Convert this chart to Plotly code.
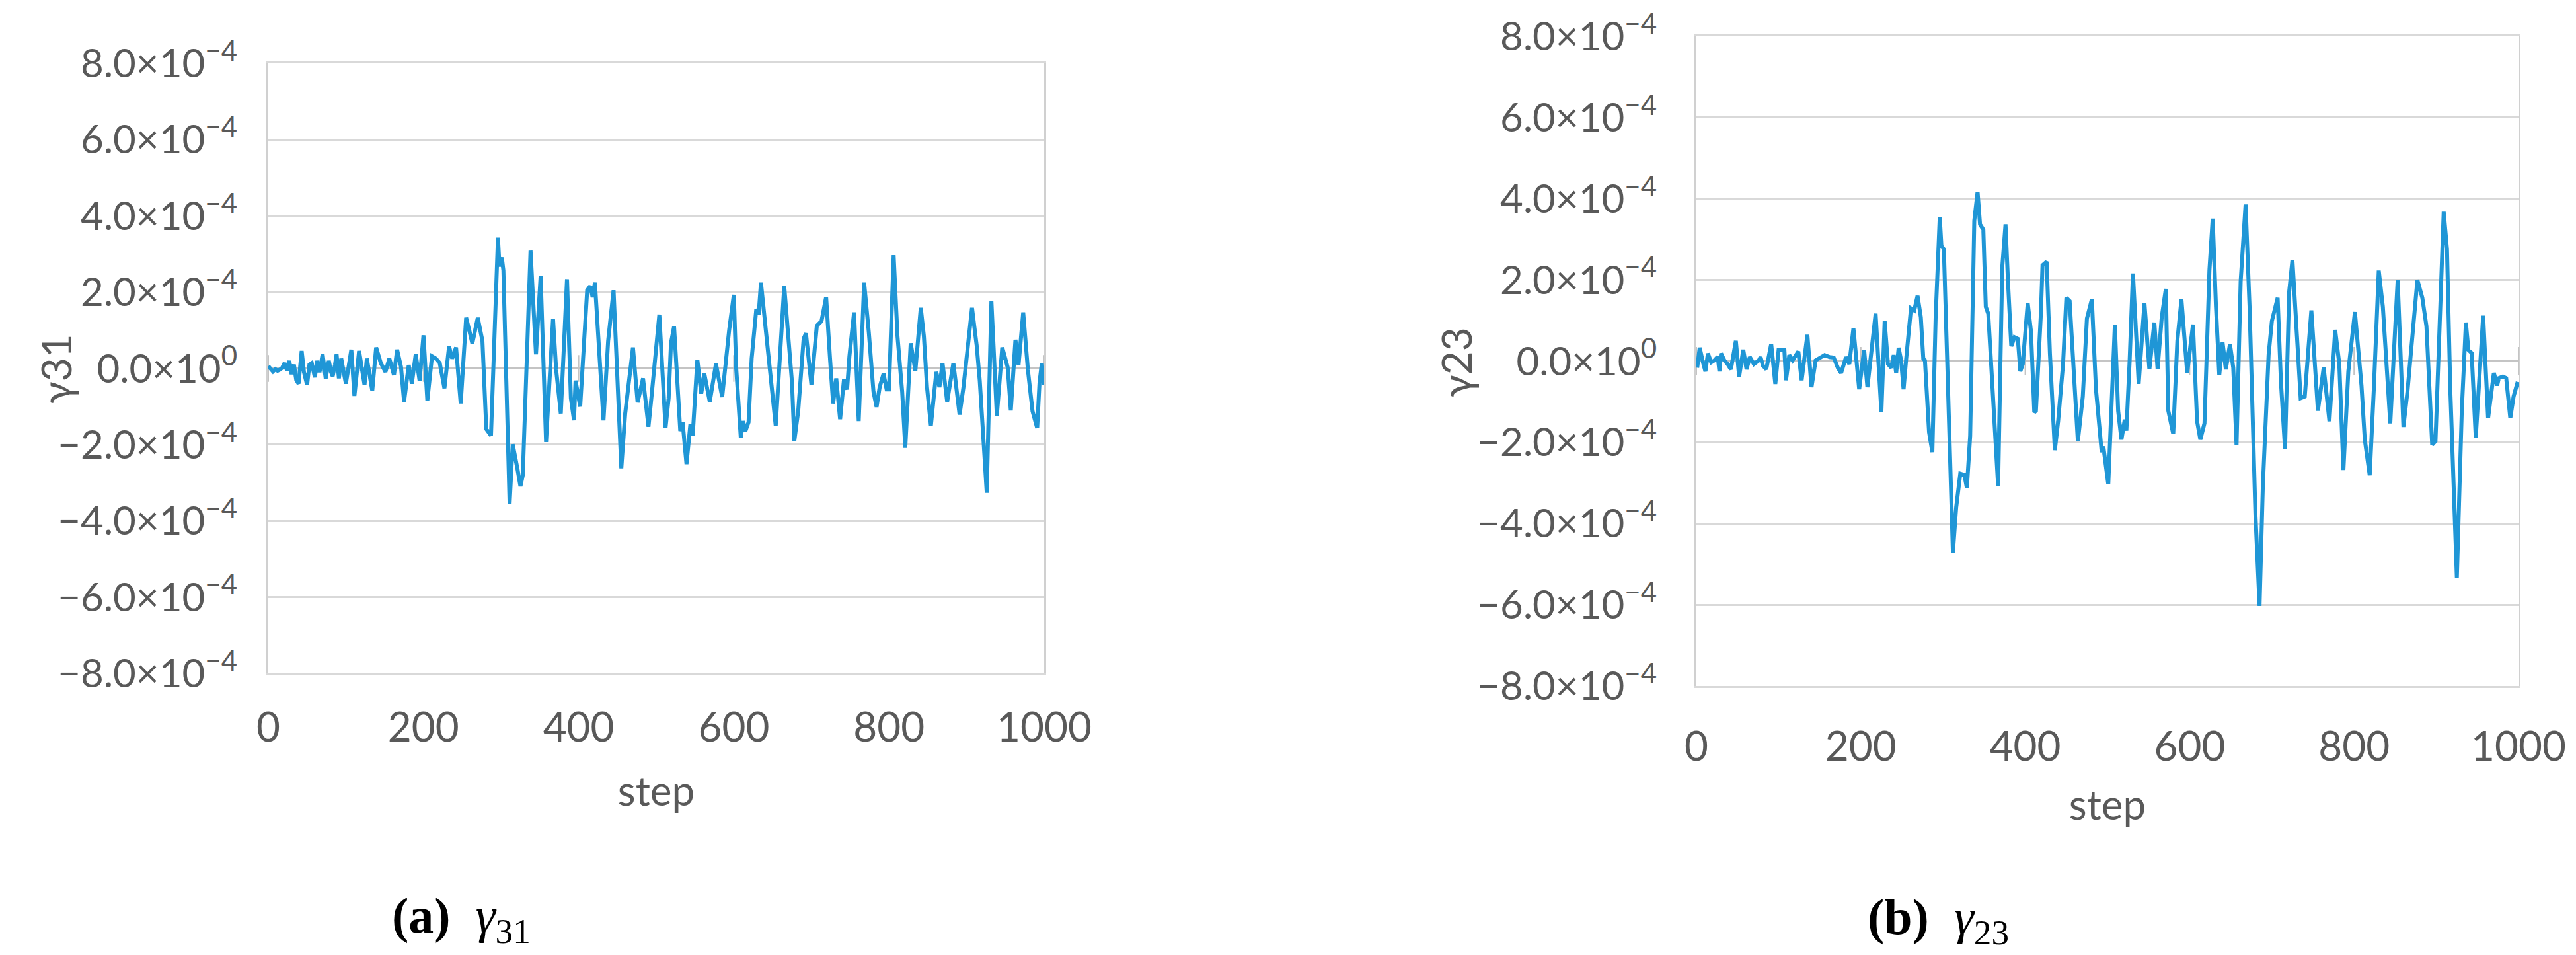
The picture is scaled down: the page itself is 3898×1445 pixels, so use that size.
import plotly.graph_objects as go

# ---- data (values in units of 1e-4) ----
steps_31 = [0, 3, 6, 9, 12, 15, 18, 21, 24, 27, 30, 33, 36, 39, 43, 46, 50, 53, 56, 60,
            63, 66, 70, 74, 78, 81, 83, 86, 88, 91, 94, 100, 107, 111, 117, 124, 127, 134, 139, 145,
            151, 156, 162, 166, 171, 175, 181, 185, 190, 195, 200, 205, 211, 216, 221, 227, 233, 237, 242, 248,
            255, 259, 263, 270, 276, 281, 284, 287, 296, 298, 301, 303, 311, 315, 321, 325, 328, 338, 345, 351,
            358, 367, 371, 377, 385, 390, 394, 396, 402, 411, 415, 418, 421, 432, 438, 445, 455, 460, 470, 476,
            483, 490, 494, 504, 512, 516, 519, 523, 531, 534, 539, 544, 547, 553, 558, 562, 569, 577, 585, 594,
            600, 603, 609, 612, 615, 619, 623, 629, 632, 635, 643, 654, 665, 675, 678, 683, 690, 693, 700, 707,
            713, 719, 724, 728, 732, 737, 742, 746, 749, 755, 761, 768, 774, 780, 784, 788, 793, 797, 800, 806,
            811, 817, 821, 828, 834, 841, 845, 849, 854, 861, 865, 869, 875, 883, 891, 896, 907, 913, 917, 926,
            932, 939, 946, 953, 957, 963, 967, 973, 979, 985, 991, 994, 997, 1000]
gamma_31 = [0.06, -0.03, -0.08, -0.02, -0.06, -0.03, 0.02, 0.14, -0.05, 0.2, -0.15, 0.1, -0.3, -0.4, 0.46, -0.1, -0.43, 0.1, 0.14, -0.23,
            0.2, -0.1, 0.37, -0.26, 0.2, -0.1, -0.2, 0.1, 0.37, -0.26, 0.26, -0.4, 0.49, -0.72, 0.46, -0.43, 0.26, -0.58, 0.55, 0.14,
            -0.09, 0.26, -0.17, 0.49, 0.05, -0.87, 0.09, -0.4, 0.37, -0.32, 0.87, -0.84, 0.32, 0.26, 0.14, -0.52, 0.58, 0.26, 0.55, -0.92,
            1.33, 1.0, 0.66, 1.33, 0.72, -1.59, -1.7, -1.76, 3.43, 2.68, 2.91, 2.57, -3.55, -1.99, -2.62, -3.09, -2.8, 3.09, 0.37, 2.42,
            -1.93, 1.3, -0.03, -1.18, 2.34, -0.78, -1.36, -0.32, -1.0, 2.05, 2.16, 1.87, 2.25, -1.36, 0.72, 2.05, -2.62, -1.18, 0.55, -0.89,
            -0.26, -1.53, -0.72, 1.41, -1.56, -0.78, 0.66, 1.1, -1.64, -1.41, -2.51, -1.47, -1.76, 0.23, -0.66, -0.14, -0.87, 0.12, -0.75, 1.01,
            1.93, 0.03, -1.82, -1.38, -1.64, -1.41, 0.26, 1.56, 1.41, 2.25, 0.66, -1.5, 2.16, -0.37, -1.9, -1.12, 0.78, 0.92, -0.43, 1.12,
            1.24, 1.87, 0.26, -0.92, -0.26, -1.33, -0.29, -0.55, 0.32, 1.47, -1.38, 2.25, 0.95, -0.61, -1.01, -0.49, -0.14, -0.55, -0.55, 2.97,
            0.84, -0.61, -2.08, 0.66, -0.06, 1.59, 0.84, -0.49, -1.5, -0.09, -0.49, 0.14, -0.87, 0.14, -1.21, -0.49, 1.59, 0.61, -0.32, -3.26,
            1.76, -1.24, 0.55, 0.03, -1.1, 0.75, 0.09, 1.47, -0.03, -1.12, -1.56, -0.37, 0.14, -0.43]

steps_23 = [1, 4, 8, 11, 14, 18, 22, 26, 28, 30, 34, 38, 42, 48, 52, 57, 61, 65, 70, 76,
            78, 81, 85, 91, 96, 100, 107, 109, 113, 117, 124, 128, 135, 140, 145, 151, 156, 162, 167, 172,
            176, 182, 186, 191, 198, 204, 208, 218, 225, 229, 233, 237, 240, 243, 246, 249, 252, 255, 261, 265,
            269, 273, 276, 278, 283, 287, 291, 296, 298, 301, 306, 312, 316, 321, 326, 329, 333, 338, 342, 345,
            349, 352, 355, 359, 361, 367, 372, 376, 379, 383, 387, 391, 394, 397, 403, 407, 411, 413, 419, 421,
            426, 430, 436, 440, 446, 450, 454, 459, 464, 470, 475, 481, 486, 493, 495, 501, 509, 513, 517, 521,
            523, 527, 531, 538, 545, 551, 557, 561, 566, 571, 574, 580, 585, 590, 597, 604, 609, 613, 618, 624,
            628, 632, 636, 640, 644, 649, 653, 657, 662, 668, 673, 680, 685, 689, 696, 700, 707, 711, 716, 721,
            725, 735, 740, 748, 756, 763, 770, 777, 782, 787, 793, 801, 809, 813, 819, 824, 830, 835, 844, 853,
            860, 865, 877, 883, 888, 895, 899, 909, 913, 917, 925, 931, 936, 939, 943, 948, 952, 957, 963, 970,
            974, 976, 981, 985, 990, 994, 999]
gamma_23 = [-0.16, 0.33, -0.03, -0.25, 0.19, -0.03, 0.02, 0.11, -0.25, 0.19, 0.02, -0.07, -0.2, 0.5, -0.38, 0.28, -0.2, 0.1, -0.07, 0.02,
            0.1, -0.11, -0.2, 0.42, -0.56, 0.28, 0.28, -0.47, 0.15, 0.02, 0.24, -0.47, 0.65, -0.64, 0.02, 0.1, 0.15, 0.1, 0.09, -0.16,
            -0.29, 0.1, -0.07, 0.81, -0.69, 0.28, -0.64, 1.17, -1.26, 0.99, -0.07, -0.16, 0.15, -0.29, 0.33, 0.02, -0.69, 0.02, 1.3, 1.25,
            1.61, 1.08, 0.06, 0.02, -1.75, -2.24, 1.08, 3.55, 2.84, 2.76, -0.69, -4.71, -3.6, -2.77, -2.8, -3.12, -1.84, 3.46, 4.17, 3.37,
            3.24, 1.34, 1.17, -0.34, -0.78, -3.07, 2.31, 3.37, 1.96, 0.37, 0.59, 0.55, -0.25, -0.07, 1.43, 0.73, -1.26, -1.22, 1.17, 2.36,
            2.45, 0.19, -2.19, -1.48, -0.07, 1.56, 1.48, -0.34, -1.97, -0.87, 1.05, 1.52, -0.69, -2.24, -2.1, -3.03, 0.9, -1.22, -1.93, -1.44,
            -1.71, 0.02, 2.16, -0.56, 1.43, -0.2, 0.95, -0.2, 1.08, 1.78, -1.22, -1.79, 0.5, 1.52, -0.29, 0.9, -1.48, -1.93, -1.53, 2.23,
            3.51, 1.34, -0.34, 0.46, -0.2, 0.42, -0.16, -2.06, 1.96, 3.86, 1.25, -3.78, -6.03, -3.07, 0.15, 0.99, 1.56, -0.51, -2.17, 1.7,
            2.49, -0.91, -0.87, 1.25, -1.22, -0.16, -1.48, 0.77, -0.07, -2.68, -0.25, 1.21, -0.6, -1.93, -2.81, -0.69, 2.23, 1.34, -1.53, 2.0,
            -1.62, -0.73, 2.0, 1.56, 0.86, -2.06, -1.97, 3.68, 2.76, -0.69, -5.33, -1.22, 0.95, 0.28, 0.2, -1.88, -0.38, 1.12, -1.4, -0.29,
            -0.6, -0.42, -0.38, -0.42, -1.4, -0.87, -0.51]

x_ticks = [0, 200, 400, 600, 800, 1000]
y_ticks = [-8e-4, -6e-4, -4e-4, -2e-4, 0, 2e-4, 4e-4, 6e-4, 8e-4]
y_ticktext = ["\u22128.0\u00d710<sup>\u22124</sup>", "\u22126.0\u00d710<sup>\u22124</sup>",
              "\u22124.0\u00d710<sup>\u22124</sup>", "\u22122.0\u00d710<sup>\u22124</sup>",
              "0.0\u00d710<sup>0</sup>",
              "2.0\u00d710<sup>\u22124</sup>", "4.0\u00d710<sup>\u22124</sup>",
              "6.0\u00d710<sup>\u22124</sup>", "8.0\u00d710<sup>\u22124</sup>"]

W, H = 3898, 1445
LINE = "#1f96d6"
GREY = "#595959"

fig = go.Figure()
fig.add_trace(go.Scatter(x=steps_31, y=[v * 1e-4 for v in gamma_31], mode="lines",
                         line=dict(color=LINE, width=6), xaxis="x", yaxis="y", showlegend=False))
fig.add_trace(go.Scatter(x=steps_23, y=[v * 1e-4 for v in gamma_23], mode="lines",
                         line=dict(color=LINE, width=6), xaxis="x2", yaxis="y2", showlegend=False))


def xaxis(dom, anchor, lab_off, title_off):
    return dict(domain=dom, anchor=anchor, range=[0, 1000], tickvals=x_ticks,
                showgrid=False, zeroline=False, showline=True, mirror=True,
                linecolor="#d9d9d9", linewidth=3, ticks="", automargin=False,
                tickfont=dict(family="Lato", size=62, color=GREY),
                ticklabelstandoff=lab_off,
                title=dict(text="step", font=dict(family="Lato", size=62, color=GREY), standoff=title_off))


def yaxis(dom, anchor, standoff):
    return dict(domain=dom, anchor=anchor, range=[-8e-4, 8e-4], tickvals=y_ticks,
                ticktext=y_ticktext, showgrid=True, gridcolor="#d9d9d9", gridwidth=3,
                zeroline=True, zerolinecolor="#c4c4c4", zerolinewidth=3,
                showline=True, mirror=True, linecolor="#d0d0d0", linewidth=3, ticks="",
                automargin=False,
                tickfont=dict(family="Lato", size=60, color=GREY),
                ticklabelstandoff=standoff)


fig.update_layout(
    width=W, height=H,
    margin=dict(l=0, r=0, t=0, b=0),
    paper_bgcolor="white", plot_bgcolor="white",
    xaxis=xaxis([398 / W, 1572 / W], "y", 26, 42),
    yaxis=yaxis([1 - 1011 / H, 1 - 88 / H], "x", 32),
    xaxis2=xaxis([2559 / W, 3803 / W], "y2", 36, 34),
    yaxis2=yaxis([1 - 1030 / H, 1 - 47 / H], "x2", 45),
)

# small cross tick marks on the horizontal (zero) axis
for xa, ya in (("x", "y"), ("x2", "y2")):
    for t in x_ticks:
        fig.add_shape(type="line", xref=xa, yref=ya, x0=t, x1=t, y0=-0.35e-4, y1=0.35e-4,
                      line=dict(color="#c4c4c4", width=2), layer="below")

# y-axis titles
fig.add_annotation(text="\u03b331", xref="paper", yref="paper", x=76 / W, y=1 - 550 / H,
                   textangle=-90, showarrow=False, xanchor="center", yanchor="middle",
                   font=dict(family="Lato", size=62, color=GREY))
fig.add_annotation(text="\u03b323", xref="paper", yref="paper", x=2195 / W, y=1 - 540 / H,
                   textangle=-90, showarrow=False, xanchor="center", yanchor="middle",
                   font=dict(family="Lato", size=62, color=GREY))

# sub-figure captions
for label, sub, cx, cy in (("a", "31", 690, 1383), ("b", "23", 2925, 1385)):
    fig.add_annotation(text="<b>(" + label + ")</b>\u2002<i>\u03b3</i><sub>" + sub + "</sub>",
                       xref="paper", yref="paper", x=cx / W, y=1 - cy / H,
                       showarrow=False, xanchor="center", yanchor="middle",
                       font=dict(family="Liberation Serif", size=76, color="black"))

fig.write_html("out.html")
